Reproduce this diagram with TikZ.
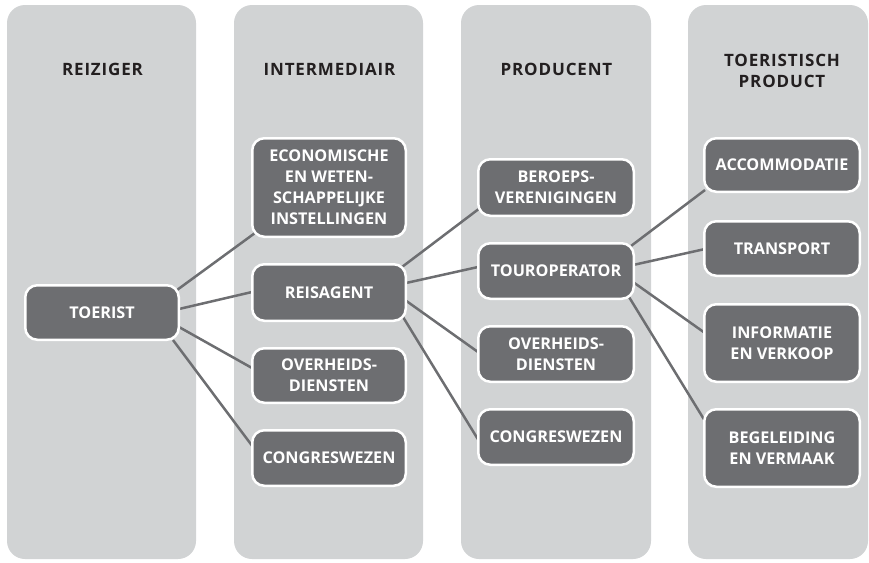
\documentclass[tikz,border=0pt]{standalone}
\usepackage{fontspec}
\setmainfont{Open Sans}
\newfontfamily\headfont[LetterSpace=5]{Open Sans}
\definecolor{panelgray}{HTML}{D1D3D4}
\definecolor{boxgray}{HTML}{6D6E71}
\definecolor{headtext}{HTML}{231F20}
\pgfdeclarelayer{panels}
\pgfdeclarelayer{links}
\pgfsetlayers{panels,links,main}
\begin{document}
\begin{tikzpicture}[x=1pt,y=-1pt,
  panel/.style={fill=panelgray, rounded corners=18pt, draw=none, minimum height=554pt, inner sep=0pt},
  header/.style={text=headtext, font=\headfont\fontsize{17}{20.5}\selectfont\bfseries, align=center, inner sep=0pt},
  box/.style={fill=boxgray, draw=white, line width=2.5pt, rounded corners=12pt, text=white,
    font=\fontsize{16.2}{21}\selectfont\bfseries, align=center, inner sep=0pt},
  box2/.style={box, minimum width=153.5pt},
  box3/.style={box, minimum width=155.5pt},
  link/.style={draw=boxgray, line width=2.5pt}]
\useasboundingbox (0,0) rectangle (869,562);
\begin{pgfonlayer}{panels}
  \node[panel, minimum width=189pt] (p1) at (101.5,282) {};
  \node[panel, minimum width=189pt] (p2) at (328.5,282) {};
  \node[panel, minimum width=190pt] (p3) at (556,282) {};
  \node[panel, minimum width=180pt] (p4) at (778,282) {};
\end{pgfonlayer}
% headers
\node[header] (h1) at (102.5,69) {REIZIGER};
\node[header] (h2) at (329.5,69) {INTERMEDIAIR};
\node[header] (h3) at (556.5,69) {PRODUCENT};
\node[header] (h4) at (782,71) {TOERISTISCH\\PRODUCT};
% boxes
\node[box2, minimum height=54.5pt] (toerist) at (102,312.5) {TOERIST};
\node[box2, minimum height=98.5pt] (econ) at (329,187.5) {ECONOMISCHE\\EN WETEN-\\SCHAPPELIJKE\\INSTELLINGEN};
\node[box2, minimum height=56.5pt] (reis) at (329,292.5) {REISAGENT};
\node[box2, minimum height=54.5pt] (overh2) at (329,375.5) {OVERHEIDS-\\DIENSTEN};
\node[box2, minimum height=55.5pt] (congres2) at (329,458) {CONGRESWEZEN};
\node[box3, minimum height=56.5pt] (beroeps) at (556,187.5) {BEROEPS-\\VERENIGINGEN};
\node[box3, minimum height=55.5pt] (tour) at (556,271) {TOUROPERATOR};
\node[box3, minimum height=55.5pt] (overh3) at (556,354) {OVERHEIDS-\\DIENSTEN};
\node[box3, minimum height=55.5pt] (congres3) at (556,437) {CONGRESWEZEN};
\node[box3, minimum height=53.5pt] (acc) at (782,165) {ACCOMMODATIE};
\node[box3, minimum height=54.5pt] (trans) at (782,248.5) {TRANSPORT};
\node[box3, minimum height=77.5pt] (info) at (782,343) {INFORMATIE\\EN VERKOOP};
\node[box3, minimum height=77.5pt] (begel) at (782,448) {BEGELEIDING\\EN VERMAAK};
% links
\begin{pgfonlayer}{links}
  \draw[link] ([shift={(75,-22.5)}]toerist.center) -- ([shift={(-74,45.5)}]econ.center);
  \draw[link] ([shift={(77,-3.5)}]toerist.center) -- ([shift={(-77,-0.5)}]reis.center);
  \draw[link] ([shift={(77,14.5)}]toerist.center) -- ([shift={(-77,-7.5)}]overh2.center);
  \draw[link] ([shift={(71,27.5)}]toerist.center) -- ([shift={(-76,-11)}]congres2.center);
  \draw[link] ([shift={(73,-25.5)}]reis.center) -- ([shift={(-76,20.5)}]beroeps.center);
  \draw[link] ([shift={(77,-9.5)}]reis.center) -- ([shift={(-78,-4)}]tour.center);
  \draw[link] ([shift={(76,7.5)}]reis.center) -- ([shift={(-78,-2)}]overh3.center);
  \draw[link] ([shift={(74,24.5)}]reis.center) -- ([shift={(-77,4)}]congres3.center);
  \draw[link] ([shift={(75,-25)}]tour.center) -- ([shift={(-77,25)}]acc.center);
  \draw[link] ([shift={(77,-6)}]tour.center) -- ([shift={(-77,0.5)}]trans.center);
  \draw[link] ([shift={(77,11)}]tour.center) -- ([shift={(-77,-10)}]info.center);
  \draw[link] ([shift={(73,26)}]tour.center) -- ([shift={(-77,-27)}]begel.center);
\end{pgfonlayer}
\end{tikzpicture}
\end{document}
